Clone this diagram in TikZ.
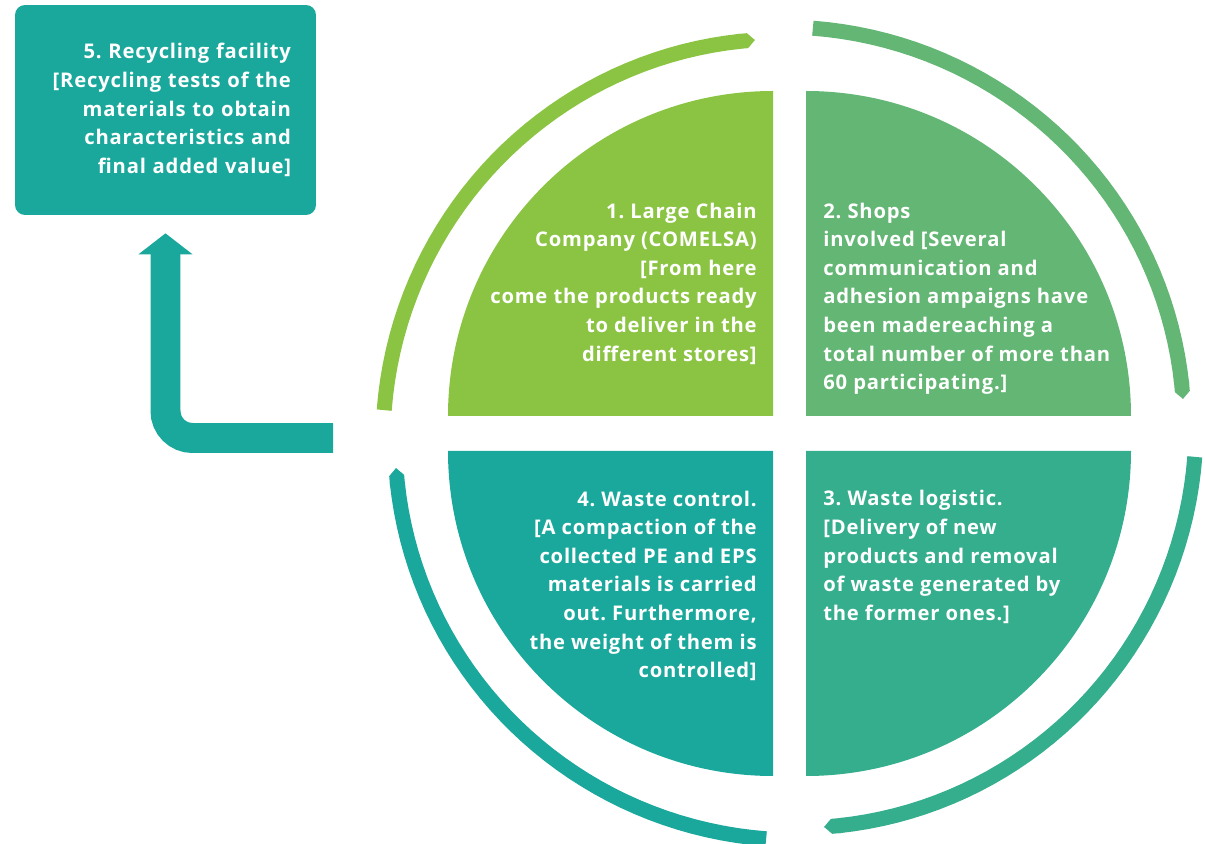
\documentclass[tikz,border=0pt]{standalone}
\usepackage{fontspec}
\setmainfont{Open Sans}[LetterSpace=4]
\frenchspacing
\usepackage{tikz}
\usetikzlibrary{arrows.meta,positioning}
\definecolor{limec}{HTML}{8BC443}
\definecolor{leafc}{HTML}{63B674}
\definecolor{jadec}{HTML}{35AE8D}
\definecolor{tealc}{HTML}{1BA89C}
\tikzset{
  ring/.style={line width=0.3cm,-{Triangle Cap}},
  txt/.style={text=white,font=\bfseries\fontsize{11.5pt}{16.3pt}\selectfont,inner sep=0pt},
  bigar/.style={tealc,line width=0.6cm,rounded corners=0.54cm,-{Triangle[length=0.42cm,width=1.06cm]}},
  box/.style={fill=tealc,rounded corners=0.2cm,minimum width=6.02cm,minimum height=4.2cm,align=right,text width=5.02cm}
}

\begin{document}
\begin{tikzpicture}[x=0.02cm,y=0.02cm]
\useasboundingbox (0,0) rectangle (1205,843);
% four quarter discs
\fill[limec] (773,427) -- (448,427) arc[start angle=180,end angle=90,radius=325] -- cycle;
\fill[leafc] (806,427) -- (806,752) arc[start angle=90,end angle=0,radius=325] -- cycle;
\fill[jadec] (806,392) -- (1131,392) arc[start angle=0,end angle=-90,radius=325] -- cycle;
\fill[tealc] (773,392) -- (773,67) arc[start angle=-90,end angle=-180,radius=325] -- cycle;
% outer ring, one slightly tightening arc per quarter
\foreach \a/\col in {176.7/limec,86.7/leafc,-3.3/jadec,-93.3/tealc}
  \draw[ring,\col] plot[domain=0:1,samples=40]
    ({789.5+(406-11*\x)*cos(\a-81.7*\x)},{409.5+(406-11*\x)*sin(\a-81.7*\x)});
% texts sit on the baseline of their last line
\node[txt,align=right,anchor=base east] (stage1) at (757,481.8)
  {1. Large Chain\\Company (COMELSA)\\{[}From here\\come the products ready\\to deliver in the\\different stores]};
\node[txt,align=left,anchor=base west] (stage2) at (823,453.1)
  {2. Shops\\involved [Several\\communication and\\adhesion ampaigns have\\been madereaching a\\total number of more than\\60 participating.]};
\node[txt,align=left,anchor=base west] (stage3) at (823,222.5)
  {3. Waste logistic.\\{[}Delivery of new\\products and removal\\of waste generated by\\the former ones.]};
\node[txt,align=right,anchor=base east] (stage4) at (757,165.1)
  {4. Waste control.\\{[}A compaction of the\\collected PE and EPS\\materials is carried\\out. Furthermore,\\the weight of them is\\controlled]};
\node[box,txt] (facility) at (165.5,733)
  {5. Recycling facility\\{[}Recycling tests of the\\materials to obtain\\characteristics and\\final added value]};
\coordinate (tail) at (333,405);
\draw[bigar] (tail) -| ([yshift=-0.36cm]facility.south);
\end{tikzpicture}
\end{document}
